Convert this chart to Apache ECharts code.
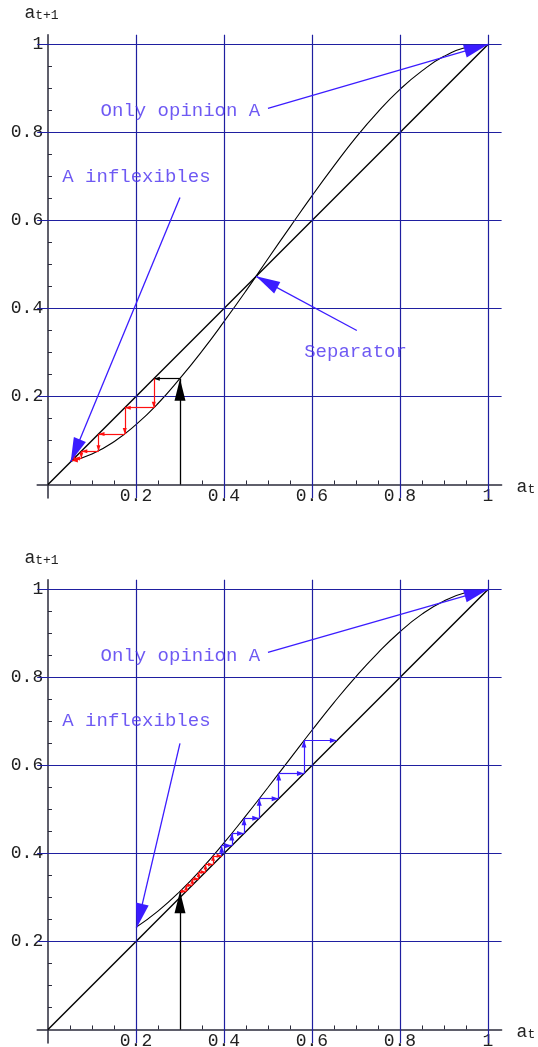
<!DOCTYPE html>
<html>
<head>
<meta charset="utf-8">
<script src="https://cdn.jsdelivr.net/npm/echarts@6/dist/echarts.min.js"></script>
<style>
html, body { margin: 0; padding: 0; background: #fff; }
#main { width: 538px; height: 1047px; }
</style>
</head>
<body>
<div id="main"></div>
<script>
// a_t -> a_{t+1} map
var topX = [0.05, 0.1, 0.15, 0.2, 0.25, 0.3, 0.35, 0.4, 0.45, 0.5, 0.55, 0.6, 0.65, 0.7, 0.75, 0.8, 0.85, 0.9, 0.95, 1];
var topY = [0.052, 0.069, 0.097, 0.136, 0.184, 0.241, 0.303, 0.370, 0.440, 0.513, 0.585, 0.656, 0.724, 0.789, 0.847, 0.898, 0.940, 0.973, 0.993, 1];
var bottomX = [0.2, 0.25, 0.3, 0.35, 0.4, 0.45, 0.5, 0.55, 0.6, 0.65, 0.7, 0.75, 0.8, 0.85, 0.9, 0.95, 1];
var bottomY = [0.232, 0.269, 0.314, 0.366, 0.424, 0.486, 0.550, 0.615, 0.680, 0.743, 0.802, 0.856, 0.904, 0.944, 0.974, 0.993, 1];
var diagonal = [[0, 0], [1, 1]];

// successive a_t values of the staircases
var topSteps = [0.3, 0.2405, 0.1745, 0.1148, 0.0757, 0.059, 0.0543];
var bottomRedSteps = [0.3, 0.314, 0.328, 0.3425, 0.358, 0.3752, 0.3948];
var bottomBlueSteps = [0.3948, 0.4178, 0.4456, 0.4802, 0.5244, 0.5818, 0.6566];

var tickValues = [0.2, 0.4, 0.6, 0.8, 1];
var tickLabels = ['0.2', '0.4', '0.6', '0.8', '1'];
var minorTicks = [0.05, 0.1, 0.15, 0.2, 0.25, 0.3, 0.35, 0.4, 0.45, 0.5, 0.55, 0.6, 0.65, 0.7, 0.75, 0.8, 0.85, 0.9, 0.95, 1];

var topNotes = ['Only opinion A', 'A inflexibles', 'Separator'];
var topNotePos = [[0.301, 0.85], [0.201, 0.698], [0.699, 0.302]];
var topArrowFrom = [[0.5, 0.855], [0.3, 0.652], [0.702, 0.35]];
var topArrowTo = [[1, 1], [0.0516, 0.0516], [0.473, 0.473]];
var bottomNotes = ['Only opinion A', 'A inflexibles'];
var bottomNotePos = [[0.301, 0.85], [0.201, 0.702]];
var bottomArrowFrom = [[0.5, 0.857], [0.3, 0.65]];
var bottomArrowTo = [[1, 1], [0.202, 0.232]];

var mono = "'Courier New', 'Liberation Mono', monospace";
var axisColor = '#2b2b3b';
var gridBlue = '#1f1fa0';
var arrowBlue = '#3b1cff';
var textBlue = '#4a30f0';

var chart = echarts.init(document.getElementById('main'));

function pairs(xs, ys) {
    return xs.map(function (x, i) { return [x, ys[i]]; });
}

// staircase segments: horizontal to the diagonal, vertical to the curve
function cobweb(s, firstVertical) {
    var segs = [];
    for (var i = 0; i < s.length - 1; i++) {
        if (i > 0 || firstVertical) segs.push([[s[i], s[i]], [s[i], s[i + 1]]]);
        segs.push([[s[i], s[i + 1]], [s[i + 1], s[i + 1]]]);
    }
    return segs;
}

function arrows(gi, segs, color, width, head) {
    return {
        type: 'line', xAxisIndex: gi, yAxisIndex: gi, data: [], z: 5, silent: true,
        markLine: {
            silent: true,
            symbol: ['none', 'triangle'],
            symbolSize: head,
            symbolOffset: [0, [0, head[1] / 2]],
            itemStyle: { color: color },
            label: { show: false },
            emphasis: { disabled: true },
            lineStyle: { color: color, width: width, type: 'solid' },
            data: segs.map(function (s) { return [{ coord: s[0] }, { coord: s[1] }]; })
        }
    };
}

function gridLines(gi) {
    var d = tickValues.map(function (v) { return { xAxis: v }; })
        .concat(tickValues.map(function (v) { return { yAxis: v }; }));
    return {
        type: 'line', xAxisIndex: gi, yAxisIndex: gi, data: [], z: 1, silent: true,
        markLine: {
            silent: true, symbol: ['none', 'none'], label: { show: false },
            emphasis: { disabled: true },
            lineStyle: { color: gridBlue, width: 1.2, type: 'solid' },
            data: d
        }
    };
}

function notes(gi, texts, pos) {
    return {
        type: 'scatter', xAxisIndex: gi, yAxisIndex: gi, z: 6, silent: true,
        symbolSize: 1, itemStyle: { color: 'rgba(0,0,0,0)' },
        label: {
            show: true, position: 'inside', formatter: '{b}',
            fontFamily: mono, fontSize: 19, color: textBlue
        },
        data: texts.map(function (t, i) { return { name: t, value: pos[i] }; })
    };
}

function curve(gi, data, width) {
    return {
        type: 'line', xAxisIndex: gi, yAxisIndex: gi, z: 3, silent: true,
        data: data, smooth: true, showSymbol: false,
        lineStyle: { color: '#000', width: width }
    };
}

function tickFmt(v) {
    return tickLabels[tickValues.indexOf(v)];
}

var nameRich = {
    a: { fontFamily: mono, fontSize: 18, color: '#222', padding: [0, 0, 5, 0] },
    s: { fontFamily: mono, fontSize: 13, color: '#222' }
};

function xAxisFor(gi) {
    return {
        gridIndex: gi, type: 'value', min: -0.0245, max: 1.031,
        axisLine: { onZero: true, lineStyle: { color: axisColor, width: 1.5 } },
        axisTick: { show: true, inside: true, length: 4, customValues: minorTicks, lineStyle: { color: axisColor } },
        axisLabel: { customValues: tickValues, formatter: tickFmt, margin: -10.5, fontFamily: mono, fontSize: 18, color: '#222' },
        splitLine: { show: false },
        name: '{a|a}{s|t}', nameLocation: 'end', nameGap: 15,
        nameTextStyle: { padding: [11, 0, 0, 0], rich: nameRich }
    };
}

function yAxisFor(gi) {
    return {
        gridIndex: gi, type: 'value', min: -0.031, max: 1.022,
        axisLine: { onZero: true, lineStyle: { color: axisColor, width: 1.5 } },
        axisTick: { show: true, inside: true, length: 4, customValues: minorTicks, lineStyle: { color: axisColor } },
        axisLabel: { customValues: tickValues, formatter: tickFmt, margin: -6, fontFamily: mono, fontSize: 18, color: '#222' },
        splitLine: { show: false },
        name: '{a|a}{s|t+1}', nameLocation: 'end', nameGap: 8,
        nameTextStyle: { padding: [0, 13, 0, 0], rich: nameRich }
    };
}

var topWeb = cobweb(topSteps, false);
var redWeb = cobweb(bottomRedSteps, false);
var blueWeb = cobweb(bottomBlueSteps, true);

var option = {
    animation: false,
    backgroundColor: '#fff',
    grid: [
        { left: 37.2, top: 34.8, width: 464.4, height: 463.3, outerBoundsMode: 'none', containLabel: false },
        { left: 37.2, top: 579.8, width: 464.4, height: 463.3, outerBoundsMode: 'none', containLabel: false }
    ],
    xAxis: [xAxisFor(0), xAxisFor(1)],
    yAxis: [yAxisFor(0), yAxisFor(1)],
    series: [
        gridLines(0),
        gridLines(1),
        curve(0, diagonal, 1.4),
        curve(0, pairs(topX, topY), 1.1),
        curve(1, diagonal, 1.4),
        curve(1, pairs(bottomX, bottomY), 1.1),
        // starting point a_0 = 0.3
        arrows(0, [[[topSteps[0], 0], [topSteps[0], topSteps[1]]]], '#000', 1.3, [11, 22]),
        arrows(1, [[[bottomRedSteps[0], 0], [bottomRedSteps[0], bottomRedSteps[1]]]], '#000', 1.3, [11, 22]),
        arrows(0, topWeb.slice(0, 1), '#000', 1.2, [4, 6]),
        arrows(0, topWeb.slice(1), '#ff1010', 1.2, [4, 6]),
        arrows(1, redWeb, '#ff1010', 1.2, [4, 5]),
        arrows(1, blueWeb, arrowBlue, 1.2, [5, 7]),
        arrows(0, topArrowFrom.map(function (p, i) { return [p, topArrowTo[i]]; }), arrowBlue, 1.3, [13, 24]),
        arrows(1, bottomArrowFrom.map(function (p, i) { return [p, bottomArrowTo[i]]; }), arrowBlue, 1.3, [13, 24]),
        notes(0, topNotes, topNotePos),
        notes(1, bottomNotes, bottomNotePos)
    ]
};

chart.setOption(option);
</script>
</body>
</html>
